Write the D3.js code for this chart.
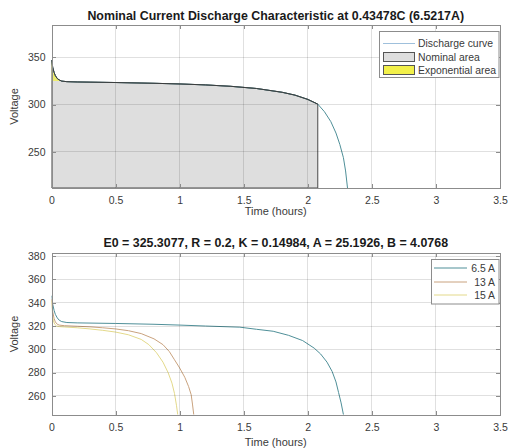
<!DOCTYPE html>
<html><head><meta charset="utf-8">
<script src="https://cdn.jsdelivr.net/npm/d3@7"></script>
<style>
body{margin:0;background:#fff;}
svg{display:block;font-family:"Liberation Sans",Arial,Helvetica,sans-serif;}
</style></head><body>
<svg id="chart" width="508" height="448"></svg>
<script>
// ---------------- data ----------------
const xTicks = [0, 0.5, 1, 1.5, 2, 2.5, 3, 3.5];
const xTickLabels = ["0", "0.5", "1", "1.5", "2", "2.5", "3", "3.5"];
const topYTicks = [250, 300, 350];
const bottomYTicks = [260, 280, 300, 320, 340, 360, 380];

const topTitle = "Nominal Current Discharge Characteristic at 0.43478C (6.5217A)";
const bottomTitle = "E0 = 325.3077, R = 0.2, K = 0.14984, A = 25.1926, B = 4.0768";
const xLabel = "Time (hours)";
const yLabel = "Voltage";

const topLegendLabels = ["Discharge curve", "Nominal area", "Exponential area"];
const bottomLegendLabels = ["6.5 A", "13 A", "15 A"];

const nominalEnd = 2.078;      // hours, end of nominal area
const exponentialEnd = 0.08;   // hours, end of exponential area

// nominal current discharge (6.5217 A): [time h, voltage V]
const dischargeNominal = [
  [0, 347], [0.005, 343], [0.01, 339], [0.02, 334], [0.03, 330.5], [0.045, 327.5],
  [0.06, 326], [0.08, 324.8], [0.12, 324.2], [0.2, 323.9], [0.5, 323.3], [0.8, 322.5],
  [1.0, 321.8], [1.2, 320.8], [1.4, 319.3], [1.6, 317], [1.8, 313], [1.9, 310],
  [2.0, 305.5], [2.078, 300.5], [2.13, 292.5], [2.18, 282], [2.22, 270], [2.25, 258],
  [2.278, 244], [2.295, 230], [2.31, 212]
];

const discharge6p5 = [
  [0, 346], [0.005, 342], [0.01, 338.5], [0.02, 333.5], [0.03, 330], [0.045, 327],
  [0.06, 325], [0.08, 323.8], [0.12, 323], [0.2, 322.7], [0.5, 322.2], [0.8, 321.5],
  [1.0, 320.8], [1.2, 320], [1.47, 319], [1.6, 317.2], [1.73, 315.5], [1.85, 312],
  [1.96, 307.5], [2.05, 301], [2.1, 296], [2.15, 289], [2.19, 281], [2.22, 272],
  [2.24, 263], [2.26, 254], [2.278, 244]
];
const discharge13 = [
  [0, 343], [0.005, 337], [0.01, 332], [0.02, 326.5], [0.03, 323.5], [0.045, 321.5],
  [0.06, 320.8], [0.1, 320.3], [0.2, 319.8], [0.3, 319.3], [0.4, 318.5], [0.5, 317.5],
  [0.6, 316], [0.7, 313.5], [0.8, 309], [0.87, 304], [0.92, 298], [0.96, 291],
  [1.0, 284], [1.04, 276], [1.07, 268], [1.09, 261], [1.1, 253], [1.11, 244]
];
const discharge15 = [
  [0, 342], [0.004, 335], [0.008, 329], [0.015, 324.5], [0.025, 321.5], [0.04, 320],
  [0.06, 319.5], [0.1, 319.2], [0.2, 318.5], [0.3, 317.5], [0.4, 316.3], [0.5, 314.8],
  [0.6, 312.5], [0.7, 308.5], [0.76, 304], [0.82, 297], [0.87, 289], [0.91, 280],
  [0.94, 271], [0.96, 262], [0.975, 252], [0.985, 244]
];

// ---------------- styles ----------------
const axisColor = "#8c8c8c";
const textColor = "#3a3a3a";
const gridColor = "#000";
const curveColor = "#4f8f98";
const seriesColors = ["#4f8f98", "#c9a27e", "#e3d98a"];
const nominalFill = "#dedede";
const expFill = "#f2f04a";

const svg = d3.select("#chart");

function makeAxes(cfg) {
  const g = svg.append("g");
  const x = d3.scaleLinear().domain([0, 3.5]).range([cfg.left, cfg.right]);
  const y = d3.scaleLinear().domain(cfg.yDomain).range([cfg.bottom, cfg.top]);
  const id = "clip" + cfg.name;
  svg.append("clipPath").attr("id", id).append("rect")
    .attr("x", cfg.left).attr("y", cfg.top)
    .attr("width", cfg.right - cfg.left).attr("height", cfg.bottom - cfg.top);
  const plot = g.append("g").attr("clip-path", `url(#${id})`);
  const gridG = g.append("g");
  const axG = g.append("g");
  return { g, x, y, plot, gridG, axG, cfg };
}

function drawFrame(a, yTicks) {
  const { x, y, cfg, gridG, axG } = a;
  gridG.selectAll("line.gx").data(xTicks.filter(t => t > 0 && t < 3.5)).join("line")
    .attr("x1", d => x(d)).attr("x2", d => x(d))
    .attr("y1", cfg.top).attr("y2", cfg.bottom)
    .attr("stroke", gridColor).attr("stroke-opacity", 0.12).attr("shape-rendering", "crispEdges");
  gridG.selectAll("line.gy").data(yTicks).join("line")
    .attr("x1", cfg.left).attr("x2", cfg.right)
    .attr("y1", d => y(d)).attr("y2", d => y(d))
    .attr("stroke", gridColor).attr("stroke-opacity", 0.12).attr("shape-rendering", "crispEdges");

  const xb = d3.axisBottom(x).tickValues(xTicks).tickFormat((d, i) => xTickLabels[i])
    .tickSizeInner(-4).tickSizeOuter(0).tickPadding(8.5);
  const xt = d3.axisTop(x).tickValues(xTicks).tickFormat("").tickSizeInner(-4).tickSizeOuter(0);
  const yl = d3.axisLeft(y).tickValues(yTicks).tickFormat(d3.format("d"))
    .tickSizeInner(-4).tickSizeOuter(0).tickPadding(6);
  const yr = d3.axisRight(y).tickValues(yTicks).tickFormat("").tickSizeInner(-4).tickSizeOuter(0);

  const gs = [
    axG.append("g").attr("transform", `translate(0,${cfg.bottom})`).call(xb),
    axG.append("g").attr("transform", `translate(0,${cfg.top})`).call(xt),
    axG.append("g").attr("transform", `translate(${cfg.left},0)`).call(yl),
    axG.append("g").attr("transform", `translate(${cfg.right},0)`).call(yr)
  ];
  gs.forEach(s => {
    s.select(".domain").attr("stroke", axisColor).attr("shape-rendering", "crispEdges");
    s.selectAll(".tick line").attr("stroke", axisColor).attr("shape-rendering", "crispEdges");
    s.selectAll(".tick text").attr("fill", textColor).attr("font-size", 10.5)
      .attr("font-family", "Liberation Sans, Arial, sans-serif");
  });

  const cx = (cfg.left + cfg.right) / 2;
  svg.append("text").attr("x", cx).attr("y", cfg.titleY).attr("text-anchor", "middle")
    .attr("font-weight", "bold").attr("font-size", 12.4).attr("fill", "#1a1a1a").text(cfg.title);
  svg.append("text").attr("x", cx).attr("y", cfg.xLabelY).attr("text-anchor", "middle")
    .attr("font-size", 11).attr("fill", textColor).text(xLabel);
  svg.append("text").attr("transform", `translate(18,${(cfg.top + cfg.bottom) / 2}) rotate(-90)`)
    .attr("text-anchor", "middle").attr("font-size", 11).attr("fill", textColor).text(yLabel);
}

function interpAt(data, t) {
  for (let i = 1; i < data.length; i++) {
    if (data[i][0] >= t) {
      const [t0, v0] = data[i - 1], [t1, v1] = data[i];
      return v0 + (v1 - v0) * (t - t0) / (t1 - t0);
    }
  }
  return data[data.length - 1][1];
}

// ---------------- top chart ----------------
const topAx = makeAxes({
  name: "top", left: 51.5, right: 500, top: 25, bottom: 188,
  yDomain: [212, 384], title: topTitle, titleY: 20, xLabelY: 215
});
{
  const { x, y, plot } = topAx;
  const ymin = y.domain()[0];
  const line = d3.line().x(d => x(d[0])).y(d => y(d[1]));
  const vNom = interpAt(dischargeNominal, nominalEnd);
  const nomPts = dischargeNominal.filter(d => d[0] < nominalEnd).concat([[nominalEnd, vNom], [nominalEnd, ymin], [0, ymin]]);
  plot.append("path").attr("d", line(nomPts) + "Z")
    .attr("fill", nominalFill).attr("stroke", "#4a4a4a").attr("stroke-width", 1);
  const vExp = interpAt(dischargeNominal, exponentialEnd);
  const expPts = dischargeNominal.filter(d => d[0] < exponentialEnd).concat([[exponentialEnd, vExp], [0, vExp]]);
  plot.append("path").attr("d", line(expPts) + "Z")
    .attr("fill", expFill).attr("fill-opacity", 0.75).attr("stroke", "none");
  plot.append("path").datum(dischargeNominal).attr("d", line)
    .attr("fill", "none").attr("stroke", curveColor).attr("stroke-width", 1);
  plot.append("path").datum(dischargeNominal.filter(d => d[0] <= nominalEnd)).attr("d", line)
    .attr("fill", "none").attr("stroke", "#3c3c3c").attr("stroke-width", 1);
}
drawFrame(topAx, topYTicks);
{
  const lg = svg.append("g");
  lg.append("rect").attr("x", 379.5).attr("y", 31.5).attr("width", 119.5).attr("height", 46)
    .attr("fill", "#fff").attr("stroke", axisColor);
  const rowY = [43.5, 57, 70];
  lg.append("line").attr("x1", 383).attr("x2", 415).attr("y1", rowY[0]).attr("y2", rowY[0])
    .attr("stroke", "#9fc0dc").attr("stroke-width", 1);
  lg.append("rect").attr("x", 383.5).attr("y", rowY[1] - 4.5).attr("width", 31).attr("height", 9)
    .attr("fill", nominalFill).attr("stroke", "#555");
  lg.append("rect").attr("x", 383.5).attr("y", rowY[2] - 4.5).attr("width", 31).attr("height", 9)
    .attr("fill", expFill).attr("stroke", "#555");
  lg.selectAll("text").data(topLegendLabels).join("text")
    .attr("x", 418).attr("y", (d, i) => rowY[i] + 3.7).attr("font-size", 10.4)
    .attr("fill", textColor).text(d => d);
}

// ---------------- bottom chart ----------------
const botAx = makeAxes({
  name: "bot", left: 51.5, right: 500, top: 253, bottom: 415,
  yDomain: [243.6, 382.7], title: bottomTitle, titleY: 247, xLabelY: 446
});
{
  const { x, y, plot } = botAx;
  const line = d3.line().x(d => x(d[0])).y(d => y(d[1]));
  [discharge6p5, discharge13, discharge15].forEach((s, i) => {
    plot.append("path").datum(s).attr("d", line).attr("fill", "none")
      .attr("stroke", seriesColors[i]).attr("stroke-width", 1);
  });
}
drawFrame(botAx, bottomYTicks);
{
  const lg = svg.append("g");
  lg.append("rect").attr("x", 431.5).attr("y", 259.5).attr("width", 67.5).attr("height", 44.5)
    .attr("fill", "#fff").attr("stroke", axisColor);
  const rowY = [268, 282, 295];
  lg.selectAll("line").data(bottomLegendLabels).join("line")
    .attr("x1", 434).attr("x2", 467).attr("y1", (d, i) => rowY[i]).attr("y2", (d, i) => rowY[i])
    .attr("stroke", (d, i) => seriesColors[i]).attr("stroke-width", 1);
  lg.selectAll("text").data(bottomLegendLabels).join("text")
    .attr("x", 495).attr("y", (d, i) => rowY[i] + 3.7).attr("text-anchor", "end")
    .attr("font-size", 10.4).attr("fill", textColor).text(d => d);
}
</script>
</body></html>
